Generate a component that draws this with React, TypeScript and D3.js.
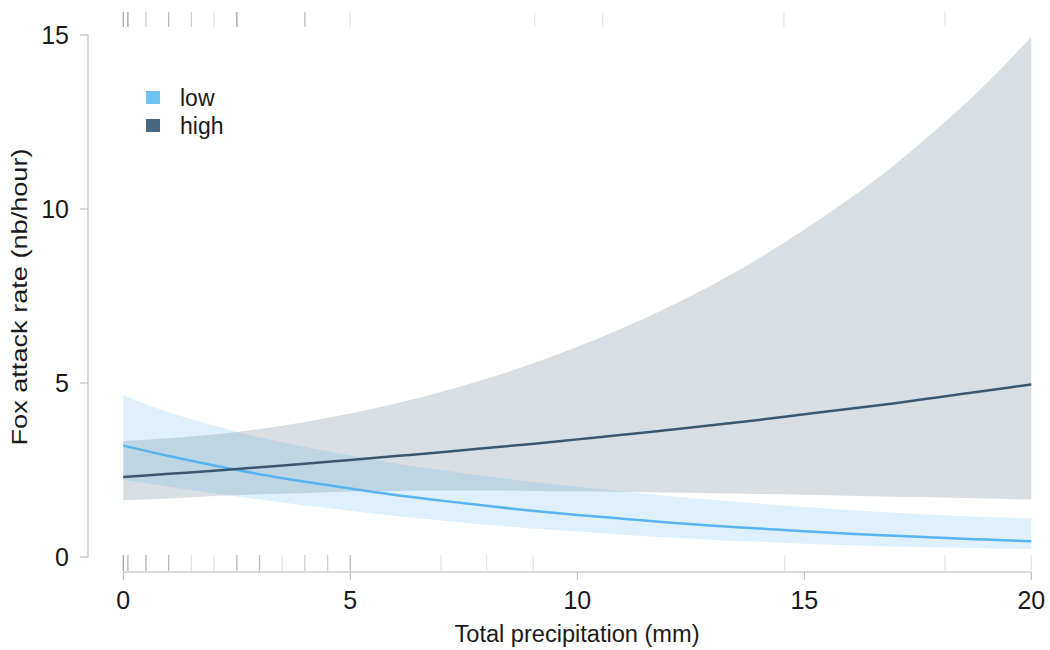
import React from "react";
import * as d3 from "d3";

const precip = [0, 1, 2, 3, 4, 5, 6, 7, 8, 9, 10, 11, 12, 13, 14, 15, 16, 17, 18, 19, 20];

const lowFit = [3.2, 2.9, 2.63, 2.38, 2.16, 1.97, 1.78, 1.62, 1.47, 1.33, 1.21, 1.1, 0.99, 0.9, 0.82, 0.74, 0.67, 0.61, 0.55, 0.5, 0.45];
const lowUpper = [4.65, 4.16, 3.78, 3.44, 3.16, 2.92, 2.69, 2.5, 2.32, 2.16, 2.02, 1.89, 1.75, 1.64, 1.54, 1.44, 1.35, 1.27, 1.2, 1.15, 1.11];
const lowLower = [2.23, 2.02, 1.83, 1.65, 1.48, 1.33, 1.18, 1.05, 0.93, 0.82, 0.73, 0.64, 0.56, 0.49, 0.44, 0.38, 0.34, 0.3, 0.27, 0.25, 0.23];

const highFit = [2.3, 2.39, 2.48, 2.58, 2.68, 2.79, 2.9, 3.01, 3.13, 3.25, 3.38, 3.51, 3.65, 3.79, 3.94, 4.1, 4.26, 4.42, 4.6, 4.78, 4.96];
const highUpper = [3.33, 3.41, 3.52, 3.68, 3.88, 4.12, 4.41, 4.74, 5.12, 5.55, 6.04, 6.58, 7.18, 7.84, 8.58, 9.41, 10.3, 11.28, 12.39, 13.59, 14.95];
const highLower = [1.63, 1.68, 1.75, 1.8, 1.84, 1.88, 1.9, 1.91, 1.91, 1.9, 1.89, 1.87, 1.85, 1.83, 1.81, 1.79, 1.76, 1.73, 1.71, 1.68, 1.65];

// rug observations (repeated values = overlapping observations)
const rugTop = [0, 0, 0, 0, 0.1, 0.1, 0.1, 0.1, 0.5, 0.5, 1, 1, 1, 1.5, 1.5, 2, 2.5, 2.5, 2.5, 2.5, 4, 4, 4, 5, 9.06, 10.56, 14.55, 18.1];
const rugBottom = [0, 0, 0, 0, 0.1, 0.1, 0.1, 0.5, 0.5, 0.5, 1, 1, 1, 1.5, 2, 2.5, 2.5, 2.5, 3, 3, 3, 3.5, 4, 4, 4.5, 4.5, 5, 5, 5, 7, 8, 9.03, 14.57, 18.1, 20];

const xTicks = [0, 5, 10, 15, 20];
const yTicks = [0, 5, 10, 15];

const groups = ["low", "high"];
const lineColors = ["#56b4ef", "#3b566f"];
const legendColors = ["#6fc3f3", "#4a6780"];
const bandColors = ["#56b4e9", "#42586c"];
const bandOpacity = [0.2, 0.2];

export default function App() {
  const W = 1050, H = 650;
  const x = d3.scaleLinear().domain([0, 20]).range([123.3, 1031.3]);
  const y = d3.scaleLinear().domain([0, 15]).range([557, 35]);
  const font = "'Liberation Sans', Arial, sans-serif";

  const fits = [lowFit, highFit];
  const uppers = [lowUpper, highUpper];
  const lowers = [lowLower, highLower];

  const area = (up: number[], lo: number[]) =>
    d3.area<number>()
      .x((_, i) => x(precip[i]))
      .y0((_, i) => y(lo[i]))
      .y1((_, i) => y(up[i]))
      .curve(d3.curveMonotoneX)(precip);

  const line = (f: number[]) =>
    d3.line<number>()
      .x((_, i) => x(precip[i]))
      .y((_, i) => y(f[i]))
      .curve(d3.curveMonotoneX)(precip);

  const axisColor = "#b3b3b3";
  const xAxisY = 572;
  const yAxisX = 88;
  const textColor = "#1a1a1a";

  return (
    <svg width={W} height={H} style={{ display: "block", position: "absolute", left: 0, top: 0 }} fontFamily={font}>
      <rect width={W} height={H} fill="#fff" />
      {[1, 0].map((g) => (
        <path key={"b" + g} d={area(uppers[g], lowers[g]) || ""} fill={bandColors[g]} fillOpacity={bandOpacity[g]} />
      ))}
      {[0, 1].map((g) => (
        <path key={"l" + g} d={line(fits[g]) || ""} fill="none" stroke={lineColors[g]} strokeWidth={2.5} />
      ))}
      {rugTop.map((v, i) => (
        <line key={"rt" + i} x1={x(v)} x2={x(v)} y1={12} y2={27} stroke="#333" strokeOpacity={0.12} strokeWidth={1.3} />
      ))}
      {rugBottom.map((v, i) => (
        <line key={"rb" + i} x1={x(v)} x2={x(v)} y1={555} y2={571} stroke="#333" strokeOpacity={0.12} strokeWidth={1.3} />
      ))}
      <line x1={yAxisX} x2={yAxisX} y1={y(15)} y2={y(0)} stroke={axisColor} strokeWidth={1} />
      {yTicks.map((t) => (
        <g key={"yt" + t}>
          <line x1={yAxisX - 8} x2={yAxisX} y1={y(t)} y2={y(t)} stroke={axisColor} />
          <text x={69} y={y(t)} dy="0.36em" textAnchor="end" fontSize={25} fill={textColor}>{t}</text>
        </g>
      ))}
      <line x1={x(0)} x2={x(20)} y1={xAxisY} y2={xAxisY} stroke={axisColor} strokeWidth={1} />
      {xTicks.map((t) => (
        <g key={"xt" + t}>
          <line x1={x(t)} x2={x(t)} y1={xAxisY} y2={xAxisY + 8} stroke={axisColor} />
          <text x={x(t)} y={609} textAnchor="middle" fontSize={25} fill={textColor}>{t}</text>
        </g>
      ))}
      <text x={577} y={642} textAnchor="middle" fontSize={23} textLength={245} lengthAdjust="spacingAndGlyphs" fill={textColor}>Total precipitation (mm)</text>
      <text transform="translate(27,297) rotate(-90)" textAnchor="middle" fontSize={22} textLength={297} lengthAdjust="spacingAndGlyphs" fill={textColor}>Fox attack rate (nb/hour)</text>
      {groups.map((g, i) => (
        <g key={"lg" + g}>
          <rect x={146} y={91 + i * 28} width={14} height={13} fill={legendColors[i]} />
          <text x={180} y={106 + i * 28} fontSize={23} fill={textColor}>{g}</text>
        </g>
      ))}
    </svg>
  );
}
